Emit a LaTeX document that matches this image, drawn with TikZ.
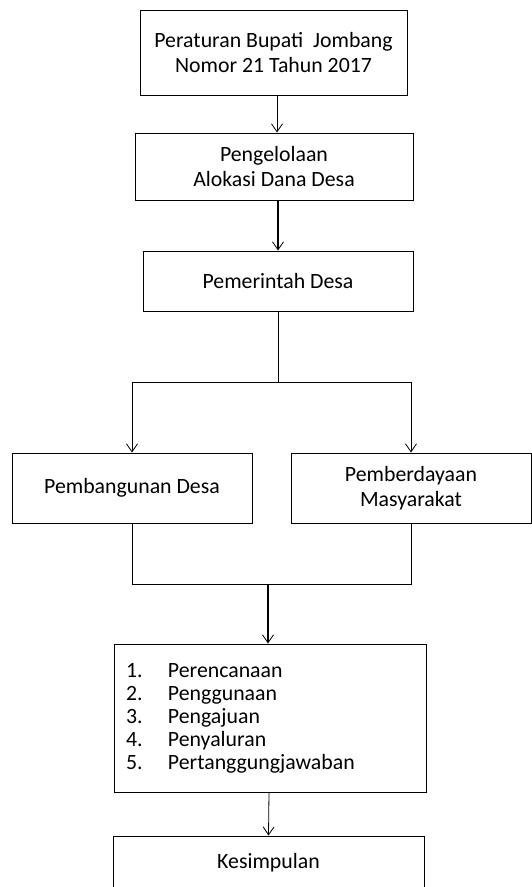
\documentclass[tikz,border=0pt]{standalone}
\usepackage{fontspec}
\setmainfont{Carlito}
\usetikzlibrary{arrows.meta}
\begin{document}
\begin{tikzpicture}[x=1pt,y=-1pt,
  box/.style={draw, line width=1pt, align=center, inner sep=0pt,
    font=\fontsize{21.8}{24.5}\selectfont},
  arr/.style={line width=0.8pt, -{Straight Barb[length=8pt,width=11pt,line width=0.8pt]}},
  ln/.style={line width=1pt}]
\useasboundingbox (0,0) rectangle (532,887);
\node[box, minimum width=267pt, minimum height=85pt] (b1) at (273.5,52.5) {Peraturan Bupati\ \ Jombang\\Nomor 21 Tahun 2017};
\node[box, minimum width=278pt, minimum height=67pt] (b2) at (274,166.5) {Pengelolaan\\Alokasi Dana Desa};
\node[box, minimum width=270pt, minimum height=60pt] (b3) at (278,281) {Pemerintah Desa};
\node[box, minimum width=240pt, minimum height=70pt] (lb) at (132,488) {Pembangunan Desa};
\node[box, minimum width=240pt, minimum height=70pt] (rb) at (411,488) {Pemberdayaan\\Masyarakat};
\node[box, minimum width=312pt, minimum height=148pt, text width=288pt, align=left,
  font=\fontsize{21.8}{23}\selectfont] (lst) at (270,718)
  {\makebox[42pt][l]{1.}Perencanaan\\\makebox[42pt][l]{2.}Penggunaan\\\makebox[42pt][l]{3.}Pengajuan\\\makebox[42pt][l]{4.}Penyaluran\\\makebox[42pt][l]{5.}Pertanggungjawaban};
\node[box, minimum width=311pt, minimum height=54pt] (bot) at (268.5,863) {Kesimpulan};
\draw[arr] ([xshift=3.5pt]b1.south) -- ([xshift=3pt]b2.north);
\draw[arr, line width=1.4pt] ([xshift=4pt]b2.south) -- (b3.north);
\draw[ln] (b3.south) -- ++(0,71) coordinate (j);
\draw[arr] (j) -| (lb.north);
\draw[arr] (j) -| (rb.north);
\draw[ln] (lb.south) -- ++(0,61) -| (rb.south);
\coordinate (m) at (268,584);
\draw[arr, line width=1.6pt] (m) -- (m |- lst.north);
\draw[arr] ([xshift=-1pt]lst.south) -- (bot.north);
\end{tikzpicture}
\end{document}
